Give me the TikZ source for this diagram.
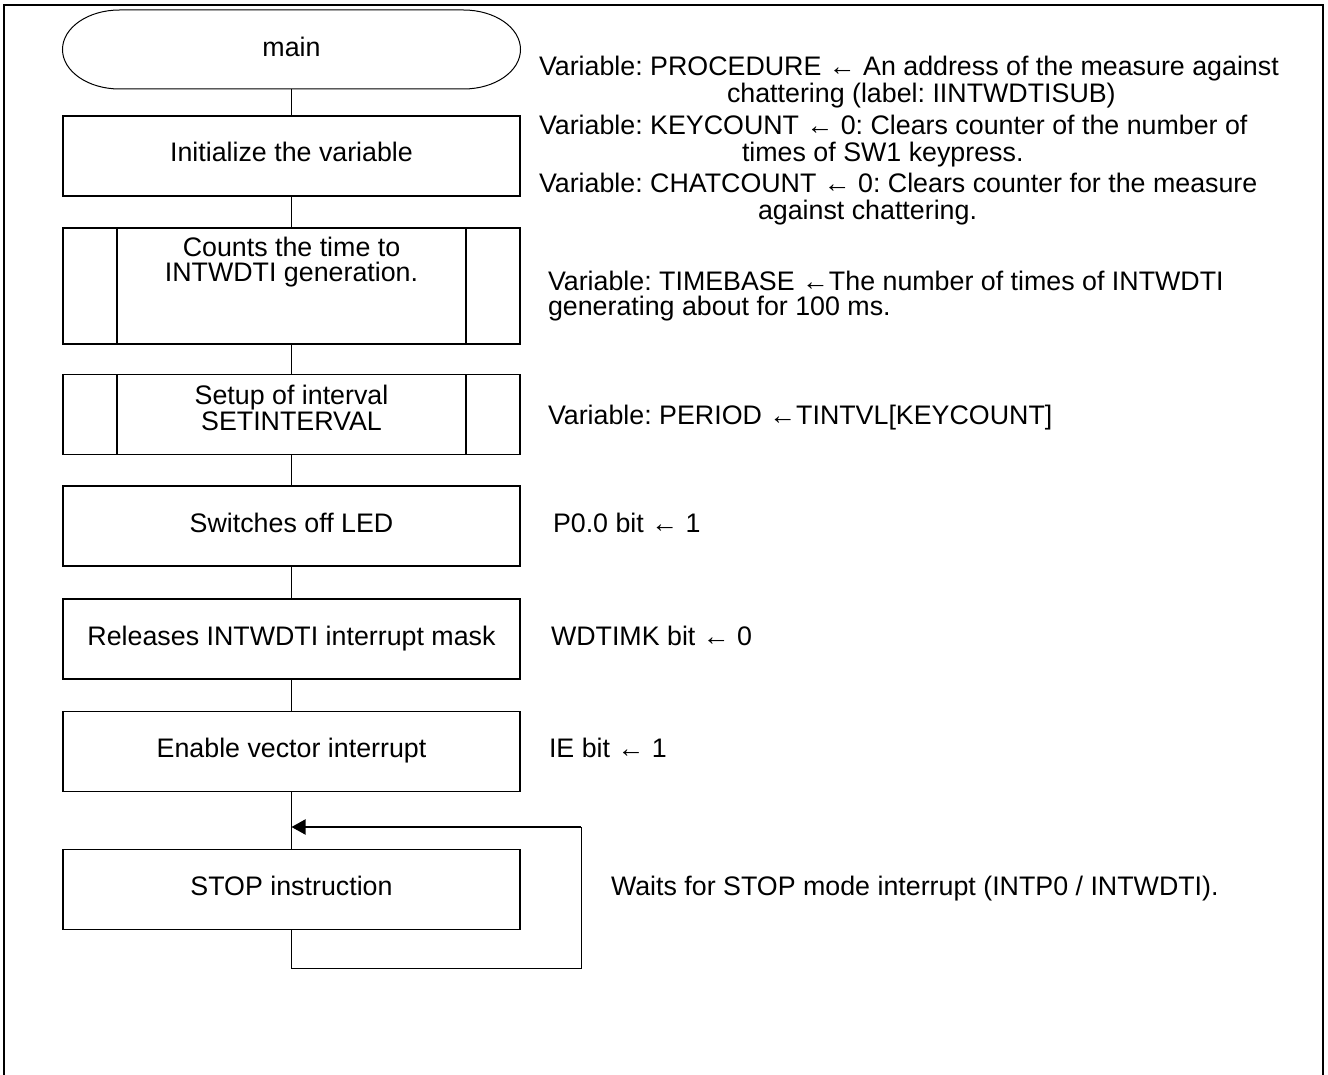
\documentclass[tikz,border=0pt]{standalone}
\usepackage{fontspec}
\setmainfont{Liberation Sans}
\usetikzlibrary{arrows.meta}
\frenchspacing
\begin{document}
\begin{tikzpicture}[x=0.5pt,y=-0.5pt,
  every node/.style={font=\fontsize{13.4}{16}\selectfont, inner sep=0pt, outer sep=0pt},
  box/.style={draw, line width=0.9pt, minimum width=228.5pt, minimum height=40pt},
  txt/.style={anchor=base},
  note/.style={anchor=base west},
  conn/.style={line width=0.5pt},
  frame/.style={line width=1pt},
  loopback/.style={line width=1pt, -{Triangle[length=7pt,width=7.5pt]}}]
\useasboundingbox (0,0) rectangle (1328,1075);
\draw[frame] (4,1075) -- (4,5) -- (1323,5) -- (1323,1075);

% terminal
\node (term) [minimum width=229pt, minimum height=39.5pt] at (291.5,49.5) {};
\draw[conn] (119.5,10) -- (463.5,10)
  arc[start angle=90,end angle=-90,x radius=28.5pt,y radius=19.75pt]
  -- (119.5,89)
  arc[start angle=270,end angle=90,x radius=28.5pt,y radius=19.75pt] -- cycle;

% boxes
\node[box] (init) at (291.5,156) {};
\node[box, minimum height=58pt] (count) at (291.5,286) {};
\draw[box] ([xshift=27pt]count.north west) -- ([xshift=27pt]count.south west);
\draw[box] ([xshift=-27pt]count.north east) -- ([xshift=-27pt]count.south east);
\node[box] (setup) at (291.5,414.5) {};
\draw[box] ([xshift=27pt]setup.north west) -- ([xshift=27pt]setup.south west);
\draw[box] ([xshift=-27pt]setup.north east) -- ([xshift=-27pt]setup.south east);
\node[box] (led) at (291.5,526) {};
\node[box] (mask) at (291.5,639) {};
\node[box] (ie) at (291.5,751.5) {};
\node[box] (stop) at (291.5,889.5) {};

% box texts
\node[txt] (tmain) at (291.5,57) {main};
\node[txt] (tinit) at (291.5,162) {Initialize the variable};
\node[txt] (tc1) at (291.5,257) {Counts the time to};
\node[txt] (tc2) at (291.5,282) {INTWDTI generation.};
\node[txt] (ts1) at (291.5,404) {Setup of interval};
\node[txt] (ts2) at (291.5,430) {SETINTERVAL};
\node[txt] (tled) at (291.5,532) {Switches off LED};
\node[txt] (tmask) at (291.5,645) {Releases INTWDTI interrupt mask};
\node[txt] (tie) at (291.5,757) {Enable vector interrupt};
\node[txt] (tstop) at (291.5,895) {STOP instruction};

% connectors
\draw[conn] (term.south) -- (init.north);
\draw[conn] (init.south) -- (count.north);
\draw[conn] (count.south) -- (setup.north);
\draw[conn] (setup.south) -- (led.north);
\draw[conn] (led.south) -- (mask.north);
\draw[conn] (mask.south) -- (ie.north);
\draw[conn] (ie.south) -- (stop.north);
\coordinate (lb) at (291.5,968);
\coordinate (rb) at (581,968);
\coordinate (rt) at (581,827);
\coordinate (join) at (291.5,827);
\draw[conn] (stop.south) -- (lb) -- (rb) -- (rt);
\draw[loopback] (rt) -- (join);

% notes
\node[note] (n1) at (539,76) {Variable: PROCEDURE ← An address of the measure against};
\node[note] (n1b) at (727,103) {chattering (label: IINTWDTISUB)};
\node[note] (n2) at (539,135) {Variable: KEYCOUNT ← 0: Clears counter of the number of};
\node[note] (n2b) at (742,162) {times of SW1 keypress.};
\node[note] (n3) at (539,193) {Variable: CHATCOUNT ← 0: Clears counter for the measure};
\node[note] (n3b) at (758,220) {against chattering.};
\node[note] (n4) at (548,291) {Variable: TIMEBASE ←The number of times of INTWDTI};
\node[note] (n4b) at (548,315) {generating about for 100 ms.};
\node[note] (n5) at (548,424) {Variable: PERIOD ←TINTVL[KEYCOUNT]};
\node[note] (n6) at (553,532) {P0.0 bit ← 1};
\node[note] (n7) at (551,645) {WDTIMK bit ← 0};
\node[note] (n8) at (549,757) {IE bit ← 1};
\node[note] (n9) at (611,895) {Waits for STOP mode interrupt (INTP0 / INTWDTI).};
\end{tikzpicture}
\end{document}
